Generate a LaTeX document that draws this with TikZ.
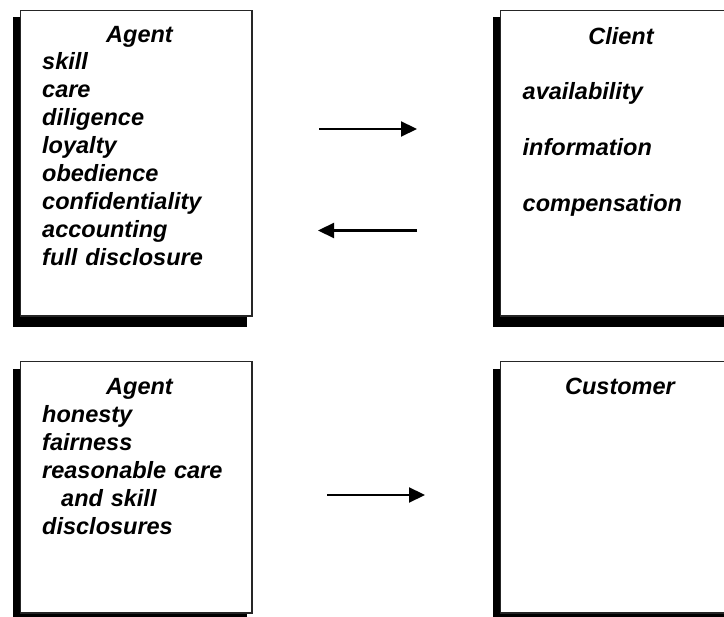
\documentclass[tikz,border=0pt]{standalone}
\usepackage{fontspec}
\setmainfont{Liberation Sans}
\usetikzlibrary{arrows.meta}
\begin{document}
\begin{tikzpicture}[x=1pt,y=-1pt,
  frame/.style={draw=black!85, line width=1.5pt, fill=white, anchor=north west, inner sep=0pt, outer sep=0pt},
  shade/.style={fill=black},
  txt/.style={font=\fontsize{23.5}{28}\selectfont\bfseries\itshape, inner sep=0pt},
  list/.style={txt, anchor=base west, text width=210pt, align=left},
  title/.style={txt, anchor=base},
  arr/.style={line width=2.2pt, -{Triangle[length=16pt,width=15pt]}}]
\useasboundingbox (0,0) rectangle (724,617);
\clip (0,0) rectangle (724,617);
\fill[white] (0,0) rectangle (724,617);
% shadows
\fill[shade] (12.7,17.5) rectangle (247,327.3);
\fill[shade] (493,17.5) rectangle (727,327.3);
\fill[shade] (12.7,369) rectangle (247,625);
\fill[shade] (493,369) rectangle (727,625);
% frames
\node[frame, minimum width=231.5pt, minimum height=305.5pt] (agentA) at (20.5,10.5) {};
\node[frame, minimum width=240pt, minimum height=305.5pt] (client) at (500.5,10.5) {};
\node[frame, minimum width=231.5pt, minimum height=251.5pt] (agentB) at (20.5,361.7) {};
\node[frame, minimum width=240pt, minimum height=251.5pt] (customer) at (500.5,361.7) {};
% texts
\node[title] (tA) at (139.5,42.5) {Agent};
\node[list] (lA) at (42,70) {skill\\care\\diligence\\loyalty\\obedience\\confidentiality\\accounting\\full disclosure};
\node[title] (tC) at (621,45) {Client};
\node[txt, anchor=base west] (c1) at (522.5,100) {availability};
\node[txt, anchor=base west] (c2) at (522.5,156) {information};
\node[txt, anchor=base west] (c3) at (522.5,212) {compensation};
\node[title] (tB) at (139.5,395) {Agent};
\node[list] (lB) at (42,423) {honesty\\fairness\\reasonable care\\\hspace*{19pt}and skill\\disclosures};
\node[title] (tD) at (620,395) {Customer};
% arrows
\coordinate (a1s) at (319,129);
\coordinate (a1e) at (417,129);
\coordinate (a2s) at (417,230.5);
\coordinate (a2e) at (318,230.5);
\coordinate (a3s) at (327,495);
\coordinate (a3e) at (425,495);
\draw[arr] (a1s) -- (a1e);
\draw[arr] (a2s) -- (a2e);
\draw[arr] (a3s) -- (a3e);
\end{tikzpicture}
\end{document}
